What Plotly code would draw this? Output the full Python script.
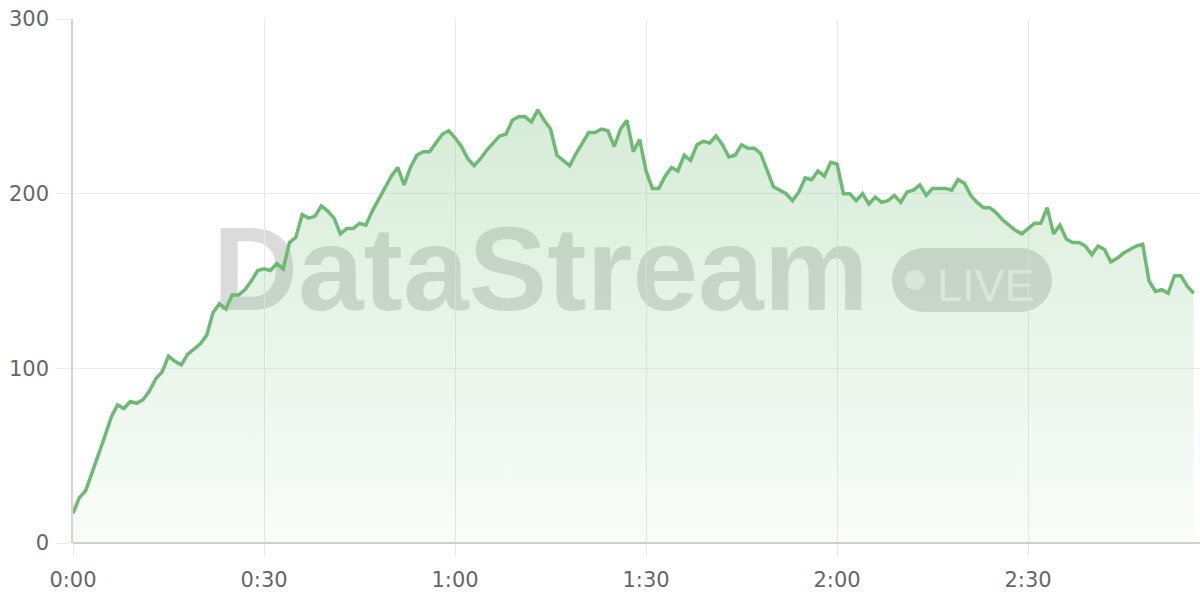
import plotly.graph_objects as go

# seconds elapsed
seconds = list(range(177))
# values
values = [
    17, 26, 30, 40, 51, 61, 72, 79, 77, 81,
    80, 82, 87, 94, 98, 107, 104, 102, 108, 111,
    114, 119, 132, 137, 134, 142, 142, 145, 150, 156,
    157, 156, 160, 157, 172, 175, 188, 186, 187, 193,
    190, 186, 177, 180, 180, 183, 182, 190, 197, 204,
    210, 215, 205, 215, 222, 224, 224, 229, 234, 236,
    232, 227, 220, 216, 220, 225, 229, 233, 234, 242,
    244, 244, 241, 248, 242, 237, 222, 219, 216, 223,
    229, 235, 235, 237, 236, 227, 237, 242, 224, 231,
    213, 203, 203, 210, 215, 213, 222, 219, 228, 230,
    229, 233, 228, 221, 222, 228, 226, 226, 223, 213,
    204, 202, 200, 196, 201, 209, 208, 213, 210, 218,
    217, 200, 200, 196, 200, 194, 198, 195, 196, 199,
    195, 201, 202, 205, 199, 203, 203, 203, 202, 208,
    206, 199, 195, 192, 192, 189, 185, 182, 179, 177,
    180, 183, 183, 192, 177, 182, 174, 172, 172, 170,
    165, 170, 168, 161, 163, 166, 168, 170, 171, 150,
    144, 145, 143, 153, 153, 147, 143,
]
x_ticks = [0, 30, 60, 90, 120, 150]
x_tick_labels = [f"{v // 60}:{v % 60:02d}" for v in x_ticks]
y_ticks = [0, 100, 200, 300]

LINE = "#6dbb72"
FONT = "DejaVu Sans"

fig = go.Figure()
fig.add_trace(go.Scatter(
    x=seconds, y=values, mode="lines",
    line=dict(color=LINE, width=3.5),
    fill="tozeroy",
    fillgradient=dict(
        type="vertical", start=0, stop=max(values),
        colorscale=[[0, "rgba(109,187,114,0.04)"], [1, "rgba(109,187,114,0.28)"]],
    ),
    hoverinfo="skip", showlegend=False,
))

WM = "rgba(110,110,110,0.25)"
shapes = [
    # DataStream watermark text (invisible box carrying a label)
    dict(type="rect", xref="paper", yref="paper", layer="between",
         x0=0.10, x1=0.73, y0=0.423, y1=0.663,
         line=dict(width=0), fillcolor="rgba(0,0,0,0)",
         label=dict(text="DataStream", textposition="middle center",
                    font=dict(family="Liberation Sans", size=118, color=WM, weight="bold"))),
    # LIVE pill
    dict(type="path", xref="paper", yref="paper", layer="between",
         xsizemode="pixel", ysizemode="pixel", xanchor=0.7977, yanchor=0.502,
         path=("M -48,-32 L 48,-32 C 65.67,-32 80,-17.67 80,0 C 80,17.67 65.67,32 48,32 "
               "L -48,32 C -65.67,32 -80,17.67 -80,0 C -80,-17.67 -65.67,-32 -48,-32 Z"),
         line=dict(width=0), fillcolor=WM),
    dict(type="circle", xref="paper", yref="paper", layer="between",
         xsizemode="pixel", ysizemode="pixel", xanchor=0.7471, yanchor=0.502,
         x0=-10, x1=10, y0=-10, y1=10,
         line=dict(width=0), fillcolor="rgba(255,255,255,0.55)"),
    dict(type="rect", xref="paper", yref="paper", layer="between",
         x0=0.76, x1=0.86, y0=0.45, y1=0.55,
         line=dict(width=0), fillcolor="rgba(0,0,0,0)",
         label=dict(text="LIVE", textposition="middle center",
                    font=dict(family="Liberation Sans", size=45, color="rgba(255,255,255,0.6)",
                              weight=500))),
]

fig.update_layout(
    width=1200, height=600,
    margin=dict(l=73, r=0, t=19, b=57),
    paper_bgcolor="white", plot_bgcolor="white",
    shapes=shapes,
    font=dict(family=FONT, size=21, color="#666666"),
    xaxis=dict(
        range=[0, 177], tickvals=x_ticks, ticktext=x_tick_labels,
        showgrid=True, gridcolor="#e8e8e8", gridwidth=1,
        ticks="outside", ticklen=12, tickcolor="#e8e8e8",
        ticklabelstandoff=6,
        showline=False, zeroline=False,
        tickfont=dict(family=FONT, size=21, color="#666666"),
    ),
    yaxis=dict(
        range=[0, 300], tickvals=y_ticks,
        showgrid=True, gridcolor="#ececec", gridwidth=1,
        ticks="outside", ticklen=15, tickcolor="#ececec",
        ticklabelstandoff=3,
        showline=True, linecolor="#d4d4d4", linewidth=1.5,
        zeroline=True, zerolinecolor="#cfcfcf", zerolinewidth=1.5,
        tickfont=dict(family=FONT, size=21, color="#666666"),
    ),
)

fig.write_html("out.html", config={"displayModeBar": False},
               post_script="document.body.style.margin='0';")
